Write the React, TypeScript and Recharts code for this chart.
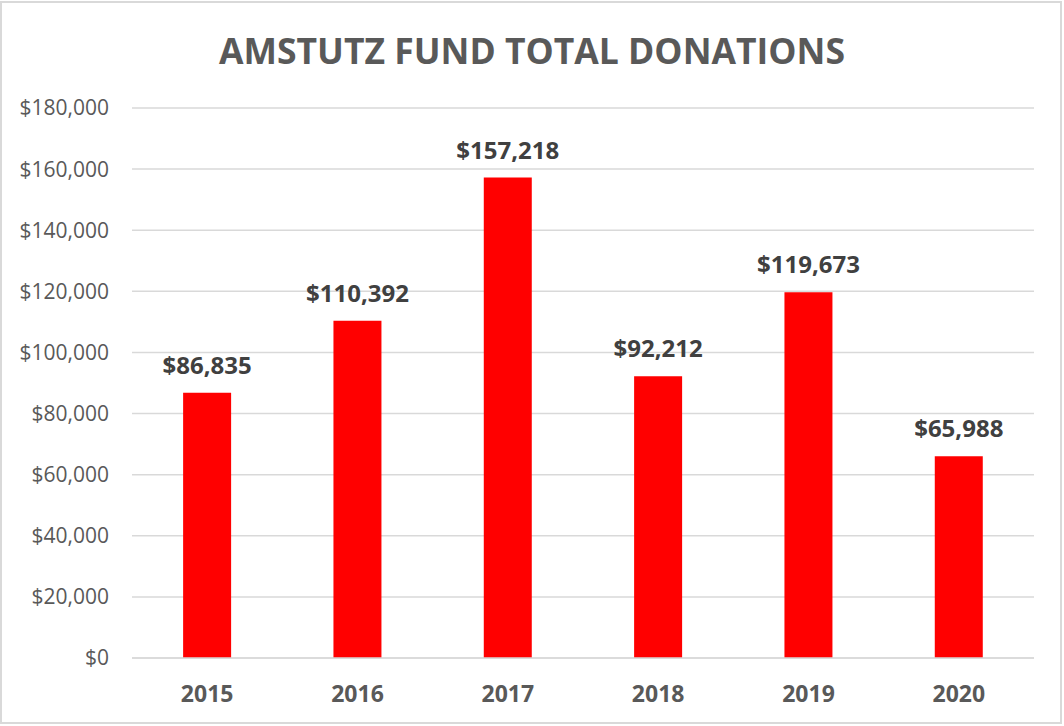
import { Bar, BarChart, CartesianGrid, LabelList, XAxis, YAxis } from 'recharts'

const years = ['2015', '2016', '2017', '2018', '2019', '2020']
const donations = [86835, 110392, 157218, 92212, 119673, 65988]
const yTicks = [0, 20000, 40000, 60000, 80000, 100000, 120000, 140000, 160000, 180000]

const data = years.map((year, i) => ({ year, total: donations[i] }))

const money = (v: number) => '$' + Number(v).toLocaleString('en-US')

const font = '"Open Sans", sans-serif'

export default function App() {
  return (
    <div style={{ position: 'absolute', left: 0, top: 0, width: 1064, height: 726, background: '#fff', fontFamily: font }}>
      <div
        style={{
          position: 'absolute', left: 0, top: 1, width: 1062, height: 723,
          border: '2px solid #d9d9d9', boxSizing: 'border-box', pointerEvents: 'none',
        }}
      />
      <div
        style={{
          position: 'absolute', left: 0, top: 26, width: 1064, textAlign: 'center',
          fontSize: 35.5, fontWeight: 700, color: '#595959', lineHeight: '48px',
        }}
      >
        AMSTUTZ FUND TOTAL DONATIONS
      </div>
      <BarChart
        width={1064}
        height={726}
        data={data}
        margin={{ top: 108, right: 30, left: 0, bottom: 0 }}
        barCategoryGap="34%"
      >
        <CartesianGrid stroke="#d9d9d9" strokeWidth={1.5} vertical={false} />
        <XAxis
          dataKey="year"
          height={68}
          axisLine={{ stroke: '#d9d9d9', strokeWidth: 1.5 }}
          tickLine={false}
          tickSize={0}
          tickMargin={28}
          tick={{ fill: '#595959', fontSize: 23, fontWeight: 700, fontFamily: font }}
        />
        <YAxis
          width={132}
          domain={[0, 180000]}
          ticks={yTicks}
          tickFormatter={money}
          axisLine={false}
          tickLine={false}
          tickSize={0}
          tickMargin={23}
          tick={{ fill: '#595959', fontSize: 21, fontFamily: font }}
        />
        <Bar dataKey="total" fill="#ff0000" isAnimationActive={false}>
          <LabelList
            dataKey="total"
            position="top"
            offset={19}
            formatter={(v: any) => money(v)}
            style={{ fill: '#404040', fontSize: 24, fontWeight: 700, fontFamily: font }}
          />
        </Bar>
      </BarChart>
    </div>
  )
}
